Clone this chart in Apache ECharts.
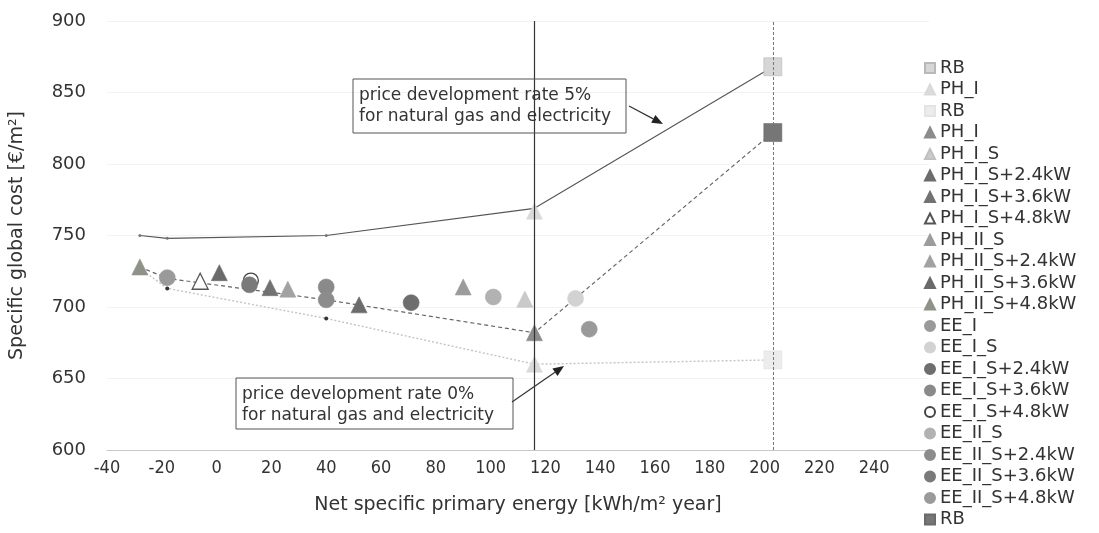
<!DOCTYPE html>
<html><head><meta charset="utf-8">
<script src="https://cdn.jsdelivr.net/npm/echarts@6/dist/echarts.min.js"></script>
<style>html,body{margin:0;padding:0;background:#fff}#c{width:1099px;height:533px}</style>
</head><body><div id="c"></div>
<script>
// ---- data ----
const yTicks = [600, 650, 700, 750, 800, 850, 900];
const line5 = [[-28,750],[-18,748],[40,750],[116,769],[203,868]];
const lineDashed = [[-28,728],[-18,720],[40,705],[116,682],[203,822]];
const line0 = [[-28,727],[-18,713],[40,692],[116,660],[203,663]];
const verticalRefs = [116, 203];

const RB_5 = [[203,868]];
const PH_I_light = [[116,767],[116,660]];
const RB_0 = [[203,663]];
const PH_I = [[116,682]];
const PH_I_S = [[112.5,705.5]];
const PH_I_S_24 = [[52,701.5]];
const PH_I_S_36 = [[19.5,713.5]];
const PH_I_S_48 = [[-6,718]];
const PH_II_S = [[90,714]];
const PH_II_S_24 = [[26,712.5]];
const PH_II_S_36 = [[1,724]];
const PH_II_S_48 = [[-28,728]];
const EE_I = [[136,684.5]];
const EE_I_S = [[131,706]];
const EE_I_S_24 = [[71,703]];
const EE_I_S_36 = [[40,714]];
const EE_I_S_48 = [[12.5,718.5]];
const EE_II_S = [[101,707]];
const EE_II_S_24 = [[40,705]];
const EE_II_S_36 = [[12,715.5]];
const EE_II_S_48 = [[-18,720.5]];
const RB_dark = [[203,822]];

const annot5 = ['price development rate 5%', 'for natural gas and electricity'];
const annot0 = ['price development rate 0%', 'for natural gas and electricity'];

// ---- styling ----
const F = "'DejaVu Sans', Verdana, sans-serif";
const FC = "'DejaVu Sans Condensed', 'DejaVu Sans', sans-serif";

const markerDefs = [
  ['RB#1', RB_5, 'rect', 18, '#d6d6d6', '#b8b8b8'],
  ['PH_I#1', PH_I_light, 'triangle', 16, '#dadada', '#dadada'],
  ['RB#2', RB_0, 'rect', 18, '#ececec', '#e4e4e4'],
  ['PH_I', PH_I, 'triangle', 16, '#8c8c8c', '#8c8c8c'],
  ['PH_I_S', PH_I_S, 'triangle', 16, '#cacaca', '#c0c0c0'],
  ['PH_I_S+2.4kW', PH_I_S_24, 'triangle', 16, '#6c6c6c', '#6c6c6c'],
  ['PH_I_S+3.6kW', PH_I_S_36, 'triangle', 16, '#727272', '#727272'],
  ['PH_I_S+4.8kW', PH_I_S_48, 'triangle', 16, '#ffffff', '#555555'],
  ['PH_II_S', PH_II_S, 'triangle', 16, '#9c9c9c', '#9c9c9c'],
  ['PH_II_S+2.4kW', PH_II_S_24, 'triangle', 16, '#a2a2a2', '#a2a2a2'],
  ['PH_II_S+3.6kW', PH_II_S_36, 'triangle', 16, '#6a6a6a', '#6a6a6a'],
  ['PH_II_S+4.8kW', PH_II_S_48, 'triangle', 16, '#8e9289', '#8e9289'],
  ['EE_I', EE_I, 'circle', 16, '#9a9a9a', '#9a9a9a'],
  ['EE_I_S', EE_I_S, 'circle', 16, '#d2d2d2', '#d2d2d2'],
  ['EE_I_S+2.4kW', EE_I_S_24, 'circle', 16, '#6e6e6e', '#6e6e6e'],
  ['EE_I_S+3.6kW', EE_I_S_36, 'circle', 16, '#8a8a8a', '#8a8a8a'],
  ['EE_I_S+4.8kW', EE_I_S_48, 'circle', 15, '#ffffff', '#444444'],
  ['EE_II_S', EE_II_S, 'circle', 16, '#b2b2b2', '#b2b2b2'],
  ['EE_II_S+2.4kW', EE_II_S_24, 'circle', 16, '#8c8c8c', '#8c8c8c'],
  ['EE_II_S+3.6kW', EE_II_S_36, 'circle', 16, '#7a7a7a', '#7a7a7a'],
  ['EE_II_S+4.8kW', EE_II_S_48, 'circle', 16, '#9a9a9a', '#9a9a9a'],
  ['RB#3', RB_dark, 'rect', 18, '#767676', '#6a6a6a']
];

const series = [
  {type:'line', name:'line5', data:line5, symbol:'circle', symbolSize:3, silent:true, z:1,
   lineStyle:{color:'#555', width:1.1}, itemStyle:{color:'#777'}},
  {type:'line', name:'lineDashed', data:lineDashed, symbol:'none', silent:true, z:1,
   lineStyle:{color:'#666', width:1.2, type:[4,3]}},
  {type:'line', name:'line0', data:line0, symbol:'circle', symbolSize:4, silent:true, z:1,
   lineStyle:{color:'#c4c4c4', width:1.4, type:[2,2]}, itemStyle:{color:'#333'}},
  {type:'line', name:'vlines', data:[], silent:true, z:1,
   markLine:{silent:true, symbol:'none', label:{show:false},
     data:[
       {xAxis:verticalRefs[0], lineStyle:{color:'#333', width:1.2, type:'solid'}},
       {xAxis:verticalRefs[1], lineStyle:{color:'#777', width:1, type:[3,2]}}
     ]}}
];
markerDefs.forEach(([name, data, sym, size, fill, stroke]) => {
  series.push({type:'scatter', name, data, symbol:sym, symbolSize:size, z:3,
    itemStyle:{color:fill, borderColor:stroke, borderWidth: fill==='#ffffff'?1.3:0.6, opacity:1}});
});

const chart = echarts.init(document.getElementById('c'), null, {renderer:'canvas'});
chart.setOption({
  animation:false,
  backgroundColor:'#fff',
  grid:{left:100, right:170, top:21, bottom:83, containLabel:false},
  xAxis:{type:'value', min:-40, max:260, interval:20,
    name:'Net specific primary energy [kWh/m² year]', nameLocation:'middle', nameGap:46,
    nameTextStyle:{fontFamily:F, fontSize:19, color:'#333'},
    axisLine:{show:true, lineStyle:{color:'#c8c8c8', width:1}}, axisTick:{show:false},
    axisLabel:{fontFamily:FC, fontSize:18, color:'#333', margin:9, showMaxLabel:false},
    splitLine:{show:false}},
  yAxis:{type:'value', min:yTicks[0], max:yTicks[yTicks.length-1], interval:50,
    name:'Specific global cost [€/m²]', nameLocation:'middle', nameGap:80,
    nameTextStyle:{fontFamily:F, fontSize:19, color:'#333'},
    axisLine:{show:false}, axisTick:{show:false},
    axisLabel:{fontFamily:F, fontSize:18, color:'#333', margin:21},
    splitLine:{show:true, lineStyle:{color:'#f2f2f2', width:1}}},
  legend:{orient:'vertical', left:924, top:59, padding:0, itemWidth:10, itemHeight:10, itemGap:3.5,
    selectedMode:false,
    data:markerDefs.map(d=>d[0]),
    formatter:n=>n.replace(/#\d$/,''),
    textStyle:{fontFamily:F, fontSize:18, color:'#333', padding:[0,0,0,0]}},
  series
});

// ---- annotations ----
function box(x, y, w, h, lines){
  return [
    {type:'rect', shape:{x:x, y:y, width:w, height:h}, style:{fill:'none', stroke:'#555', lineWidth:1}, z:10},
    {type:'text', x:x+6, y:y+6, style:{text:lines.join('\n'), font:"17px "+F, fill:'#333', lineHeight:21}, z:11}
  ];
}
function arrow(x1,y1,x2,y2){
  const a = Math.atan2(y2-y1, x2-x1), L=11, W=4.5;
  const bx = x2 - L*Math.cos(a), by = y2 - L*Math.sin(a);
  const px = -Math.sin(a)*W, py = Math.cos(a)*W;
  return [
    {type:'line', shape:{x1:x1,y1:y1,x2:bx,y2:by}, style:{stroke:'#333', lineWidth:1.2}, z:10},
    {type:'polygon', shape:{points:[[x2,y2],[bx+px,by+py],[bx-px,by-py]]}, style:{fill:'#222'}, z:10}
  ];
}
chart.setOption({graphic:[
  ...box(353, 79, 273, 54, annot5),
  ...arrow(629, 106, 663, 124),
  ...box(236, 378, 277, 51, annot0),
  ...arrow(512, 402, 564, 366)
]});
</script></body></html>
